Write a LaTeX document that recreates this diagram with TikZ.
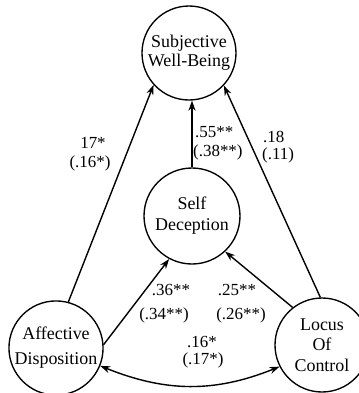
\documentclass[tikz,border=0pt]{standalone}
\usepackage{fontspec}
\setmainfont{Liberation Serif}
\usetikzlibrary{arrows.meta}
\begin{document}
\begin{tikzpicture}[x=1bp,y=-1bp,
  var/.style={circle,draw,line width=1.35bp,inner sep=0pt,align=center,
    font=\fontsize{18}{20.5}\selectfont},
  lab/.style={inner sep=0pt,font=\fontsize{17}{20}\selectfont},
  conn/.style={line width=1.4bp,-{Stealth[length=10bp,width=7bp]}}]
\useasboundingbox (0,0) rectangle (359,393);
\node[var,minimum size=94bp] (swb) at (189,53) {\raisebox{-5bp}{\begin{tabular}{@{}c@{}}Subjective\\[-1bp]Well-Being\end{tabular}}};
\node[var,minimum size=96bp] (sd) at (192,216) {\raisebox{10bp}{\begin{tabular}{@{}c@{}}Self\\[1bp]Deception\end{tabular}}};
\node[var,minimum size=92bp] (aff) at (56,348) {\raisebox{7bp}{\begin{tabular}{@{}c@{}}Affective\\[4bp]Disposition\end{tabular}}};
\node[var,minimum size=94bp] (loc) at (322,345) {Locus\\Of\\Control};

\draw[conn] (aff.75) -- (swb.222);
\draw[conn] (loc.92) -- (swb.317);
\draw[conn] (sd.north) -- (sd.north |- swb.south);
\draw[conn] (aff.4) -- (sd.242);
\draw[conn] (loc.128) -- (sd.313);
\draw[line width=1.4bp,{Stealth[length=10bp,width=7bp]}-{Stealth[length=10bp,width=7bp]}]
  (aff.338) to[out=-22,in=-158] (loc.207);

\node[lab] (a1) at (93,143) {17*};
\node[lab] (a2) at (90,163) {(.16*)};
\node[lab,anchor=west] (b1) at (195,132) {.55**};
\node[lab,anchor=west] (b2) at (193,152) {(.38**)};
\node[lab,anchor=west] (c1) at (263,137) {.18};
\node[lab,anchor=west] (c2) at (262,155) {(.11)};
\node[lab] (d1) at (171,290) {.36**};
\node[lab] (d2) at (164,315) {(.34**)};
\node[lab] (e1) at (237,290) {.25**};
\node[lab] (e2) at (241,315) {(.26**)};
\node[lab] (f1) at (202,342) {.16*};
\node[lab] (f2) at (203,360) {(.17*)};
\end{tikzpicture}
\end{document}
